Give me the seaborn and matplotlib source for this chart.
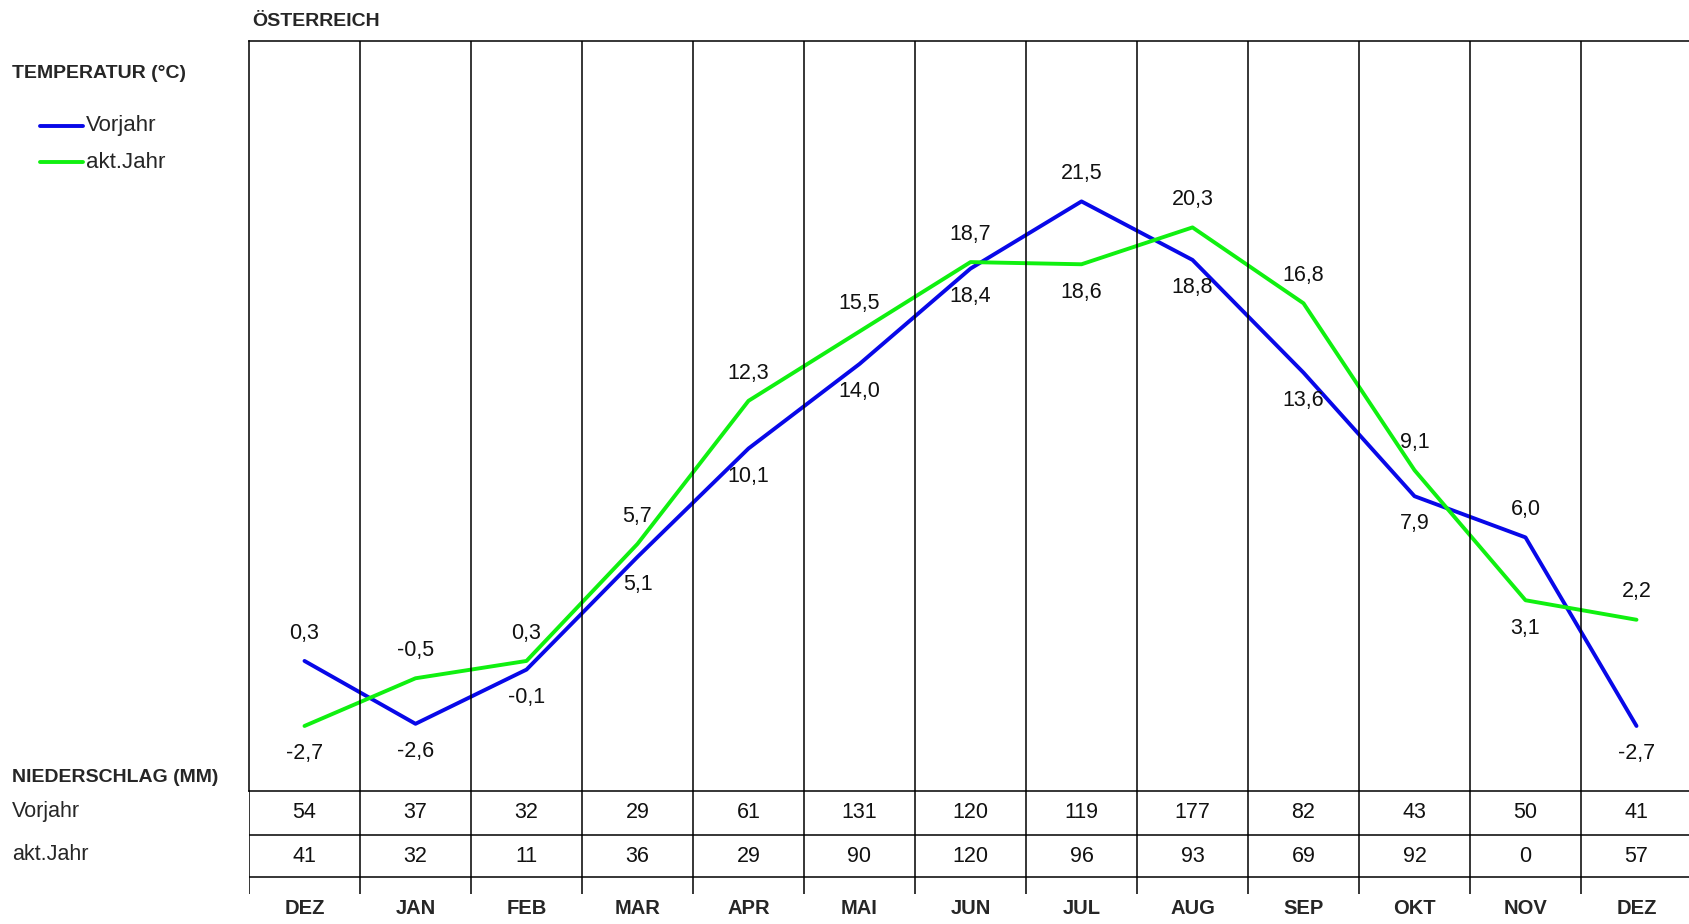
import numpy as np
import pandas as pd
import matplotlib
matplotlib.use("Agg")
import matplotlib.pyplot as plt
from matplotlib.lines import Line2D
import seaborn as sns

# data
months = ["DEZ", "JAN", "FEB", "MAR", "APR", "MAI", "JUN", "JUL", "AUG", "SEP", "OKT", "NOV", "DEZ"]
temp_vorjahr = [0.3, -2.6, -0.1, 5.1, 10.1, 14.0, 18.4, 21.5, 18.8, 13.6, 7.9, 6.0, -2.7]
temp_akt = [-2.7, -0.5, 0.3, 5.7, 12.3, 15.5, 18.7, 18.6, 20.3, 16.8, 9.1, 3.1, 2.2]
rain_vorjahr = [54, 37, 32, 29, 61, 131, 120, 119, 177, 82, 43, 50, 41]
rain_akt = [41, 32, 11, 36, 29, 90, 120, 96, 93, 69, 92, 0, 57]
series = ["Vorjahr", "akt.Jahr"]
colors = ["#0808e8", "#10f010"]

sns.set_style("white")
plt.rcParams["font.family"] = ["Liberation Sans", "DejaVu Sans"]

W, H = 1690, 924
fx = lambda px: px / W
fy = lambda py: 1 - py / H
FS = 15.5   # normal text
FB = 14     # bold text

fig = plt.figure(figsize=(W / 100, H / 100), dpi=100)

# main temperature area
top, bot, left, colw = 41, 791, 249, 111
ax = fig.add_axes([fx(left), fy(bot), (13 * colw) / W, (bot - top) / H])
n = len(months)
df = pd.DataFrame({
    "idx": list(range(n)) * 2,
    "temp": temp_vorjahr + temp_akt,
    "serie": [series[0]] * n + [series[1]] * n,
})
sns.lineplot(data=df, x="idx", y="temp", hue="serie", palette=colors,
             hue_order=series, linewidth=2.8, legend=False, ax=ax)
ax.set_xlim(-0.5, n - 0.5)
ax.set_ylim(-5.7, 28.9)
ax.set_xticks([])
ax.set_yticks([])
ax.set_xlabel("")
ax.set_ylabel("")
for s in ax.spines.values():
    s.set_color("black")
    s.set_linewidth(1.1)
ax.spines["right"].set_visible(False)
ax.vlines(np.arange(0.5, n - 0.5), -5.7, 28.9, color="black", linewidth=1.1)

fmt = lambda v: f"{v:.1f}".replace(".", ",")
for i in range(n):
    a, b = temp_vorjahr[i], temp_akt[i]
    hi, lo = max(a, b), min(a, b)
    ax.annotate(fmt(hi), (i, hi), xytext=(0, 20), textcoords="offset points",
                ha="center", va="center", fontsize=FS, color="#111111")
    ax.annotate(fmt(lo), (i, lo), xytext=(0, -20), textcoords="offset points",
                ha="center", va="center", fontsize=FS, color="#111111")

# precipitation table
tab_bot = 894
tab = fig.add_axes([fx(left), fy(tab_bot), (13 * colw) / W, (tab_bot - bot) / H])
tab.set_xlim(-0.5, n - 0.5)
tab.set_ylim(tab_bot, bot)
tab.axis("off")
tab.vlines(np.arange(-0.5, n - 0.5), bot, tab_bot, color="black", linewidth=1.1)
tab.hlines([835, 877], -0.5, n - 0.5, color="black", linewidth=1.1)
for i in range(n):
    tab.text(i, 813, str(rain_vorjahr[i]), ha="center", va="center", fontsize=FS, color="#111111")
    tab.text(i, 856, str(rain_akt[i]), ha="center", va="center", fontsize=FS, color="#111111")

# month labels
for i, m in enumerate(months):
    fig.text(fx(left + colw * (i + 0.5)), fy(908), m, ha="center", va="center",
             fontsize=14.5, fontweight="bold")

# titles and legend
fig.text(fx(252), fy(21), "ÖSTERREICH", ha="left", va="center", fontsize=FB, fontweight="bold")
fig.text(fx(12), fy(73), "TEMPERATUR (°C)", ha="left", va="center", fontsize=FB, fontweight="bold")
fig.text(fx(12), fy(778), "NIEDERSCHLAG (MM)", ha="left", va="center", fontsize=FB, fontweight="bold")
fig.text(fx(12), fy(812), "Vorjahr", ha="left", va="center", fontsize=FS)
fig.text(fx(12), fy(855), "akt.Jahr", ha="left", va="center", fontsize=FS)
for k, (name, c) in enumerate(zip(series, colors)):
    y = 126 + 36 * k
    fig.add_artist(Line2D([fx(40), fx(83)], [fy(y), fy(y)], color=c, linewidth=2.8,
                          transform=fig.transFigure))
    fig.text(fx(86), fy(y), name, ha="left", va="center", fontsize=16)

fig.savefig("out.png", dpi=100)
